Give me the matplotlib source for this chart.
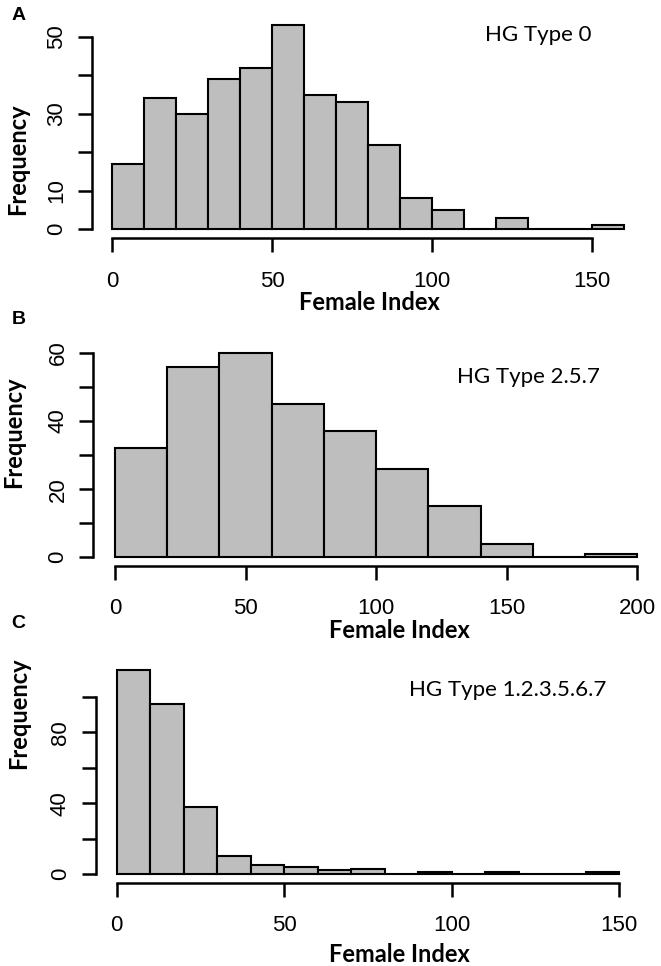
import numpy as np
import matplotlib.pyplot as plt

# bin edges and counts
edges_a = np.arange(0, 170, 10)
counts_a = [17, 34, 30, 39, 42, 53, 35, 33, 22, 8, 5, 0, 3, 0, 0, 1]
edges_b = np.arange(0, 220, 20)
counts_b = [32, 56, 60, 45, 37, 26, 15, 4, 0, 1]
edges_c = np.arange(0, 160, 10)
counts_c = [115, 96, 38, 10, 5, 4, 2, 3, 0, 1, 0, 1, 0, 0, 1]

yt_a = [0, 10, 20, 30, 40, 50]
yl_a = ['0', '10', '', '30', '', '50']
yt_b = [0, 10, 20, 30, 40, 50, 60]
yl_b = ['0', '', '20', '', '40', '', '60']
yt_c = [0, 20, 40, 60, 80, 100]
yl_c = ['0', '', '40', '', '80', '']

W, H = 661, 966
fig = plt.figure(figsize=(W / 100, H / 100), dpi=100)

tick_font = ['Liberation Sans', 'DejaVu Sans']
lab_font = ['Lato', 'DejaVu Sans']


def px_axes(x0, y0, x1, y1):
    # pixel box (top-left origin) -> figure axes
    return fig.add_axes([x0 / W, 1 - y1 / H, (x1 - x0) / W, (y1 - y0) / H])


def ftext(x, y, s, **kw):
    fig.text(x / W, 1 - y / H, s, **kw)


def panel(box, edges, counts, xlim, ylim, xticks, yticks, ylabels, left_out, bot_out):
    ax = px_axes(*box)
    ax.bar(edges[:-1], counts, width=np.diff(edges), align='edge',
           color='#bebebe', edgecolor='black', linewidth=1.5, clip_on=False)
    ax.set_xlim(*xlim)
    ax.set_ylim(*ylim)
    for s in ['top', 'right']:
        ax.spines[s].set_visible(False)
    ax.spines['left'].set_position(('outward', left_out))
    ax.spines['bottom'].set_position(('outward', bot_out))
    ax.spines['left'].set_bounds(yticks[0], yticks[-1])
    ax.spines['bottom'].set_bounds(xticks[0], xticks[-1])
    for s in ['left', 'bottom']:
        ax.spines[s].set_linewidth(1.8)
    ax.set_xticks(xticks)
    ax.set_xticklabels([str(t) for t in xticks], fontfamily=tick_font, fontsize=16)
    ax.set_yticks(yticks)
    ax.set_yticklabels(ylabels, fontfamily=tick_font, fontsize=16, rotation=90, va='center')
    ax.tick_params(axis='x', length=10, width=1.8, pad=13.5)
    ax.tick_params(axis='y', length=10, width=1.8, pad=8)
    ax.patch.set_alpha(0)
    return ax


# panel A
panel((112.3, 229.3 - 55 * 3.85, 112.3 + 160 * 3.196, 229.3), edges_a, counts_a,
      (0, 160), (0, 55), [0, 50, 100, 150], yt_a, yl_a, 14.5, 6.5)
# panel B
panel((115, 557.3 - 62 * 3.405, 115 + 200 * 2.612, 557.3), edges_b, counts_b,
      (0, 200), (0, 62), [0, 50, 100, 150, 200], yt_b, yl_b, 15.5, 6)
# panel C
panel((116.7, 874 - 118 * 1.77, 116.7 + 150 * 3.349, 874), edges_c, counts_c,
      (0, 150), (0, 118), [0, 50, 100, 150], yt_c, yl_c, 15, 6.2)

# axis titles
for x, y in [(369.5, 302), (399.7, 630), (399.7, 955)]:
    ftext(x, y, 'Female Index', ha='center', va='center', fontsize=17,
          fontweight='bold', fontfamily=lab_font)
for x, y in [(18, 159), (14, 432), (19, 713)]:
    ftext(x, y, 'Frequency', ha='center', va='center', rotation=90, fontsize=17,
          fontweight='bold', fontfamily=lab_font)

# group labels
ftext(538, 35, 'HG Type 0', ha='center', va='center', fontsize=16, fontfamily=lab_font)
ftext(528.6, 377, 'HG Type 2.5.7', ha='center', va='center', fontsize=16, fontfamily=lab_font)
ftext(507.8, 690, 'HG Type 1.2.3.5.6.7', ha='center', va='center', fontsize=16, fontfamily=lab_font)

# panel letters
for lab, x, y in [('A', 19, 15), ('B', 19, 320), ('C', 18, 623)]:
    ftext(x, y, lab, ha='center', va='center', fontsize=14, fontweight='bold',
          fontfamily=['Liberation Sans', 'DejaVu Sans'])

fig.savefig('out.png', dpi=100)
